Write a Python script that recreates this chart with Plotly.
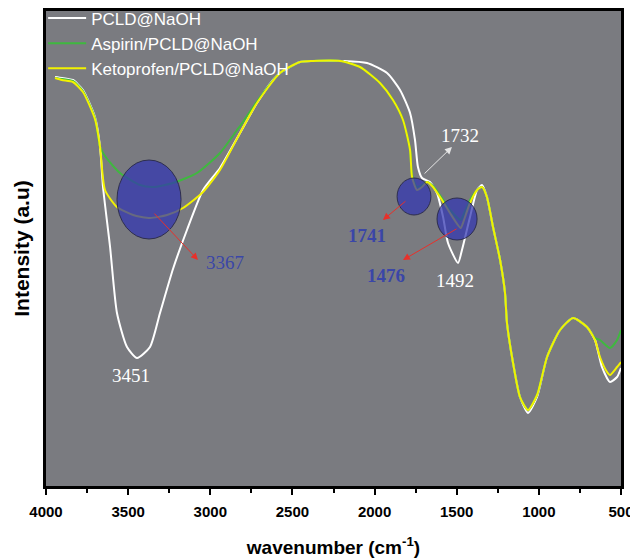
import plotly.graph_objects as go

# ---- data (wavenumber cm^-1, intensity a.u.) ----
pcld_wn = [3945, 3903, 3866, 3836, 3775, 3702, 3671, 3653, 3610, 3568, 3507, 3446, 3367, 3306,
           3227, 3142, 3044, 2941, 2819, 2716, 2618, 2576, 2454, 2375, 2192, 2046, 1924, 1845,
           1784, 1754, 1736, 1711, 1663, 1620, 1583, 1553, 1492, 1468, 1419, 1376, 1346, 1316,
           1279, 1236, 1206, 1194, 1157, 1115, 1066, 1011, 950, 871, 792, 707, 658, 616, 567,
           524, 500]
pcld_int = [409, 408, 407, 406, 396, 369, 339, 299, 239, 173, 139, 128, 139, 173,
            217, 256, 296, 318, 353, 383, 406, 413, 424, 425, 425, 423, 413, 396,
            373, 346, 319, 308, 304, 293, 269, 243, 223, 236, 269, 296, 301, 289,
            259, 226, 193, 163, 123, 89, 73, 89, 129, 156, 168, 159, 146, 119, 104,
            109, 118]

asp_wn = [3945, 3903, 3836, 3775, 3702, 3671, 3641, 3550, 3428, 3349, 3227, 3081, 2941, 2837,
          2801, 2697, 2576, 2454, 2375, 2210, 2089, 1967, 1888, 1827, 1784, 1772, 1742, 1711,
          1681, 1644, 1590, 1541, 1476, 1462, 1419, 1376, 1346, 1316, 1279, 1236, 1206, 1194,
          1157, 1115, 1066, 1011, 950, 871, 792, 707, 658, 628, 567, 524, 500]
asp_int = [408, 407, 405, 395, 368, 339, 330, 313, 301, 299, 303, 313, 333, 356,
           364, 389, 413, 424, 425, 425, 419, 403, 386, 366, 336, 311, 299, 301,
           304, 300, 288, 276, 266, 270, 286, 296, 299, 289, 259, 226, 193, 163,
           123, 89, 76, 91, 129, 156, 168, 159, 148, 146, 138, 146, 156]

keto_wn = [3945, 3903, 3836, 3775, 3702, 3671, 3641, 3568, 3470, 3367, 3263, 3166, 3044, 2941,
           2819, 2716, 2576, 2454, 2375, 2210, 2089, 1967, 1888, 1827, 1784, 1772, 1742, 1711,
           1681, 1644, 1590, 1541, 1476, 1462, 1419, 1376, 1346, 1316, 1279, 1236, 1206, 1194,
           1157, 1115, 1066, 1011, 950, 871, 792, 707, 658, 628, 585, 567, 524, 500]
keto_int = [408, 406, 404, 394, 367, 339, 296, 279, 271, 268, 271, 278, 294, 316,
            353, 383, 413, 424, 425, 425, 419, 403, 386, 366, 336, 309, 296, 299,
            304, 299, 286, 273, 258, 263, 283, 296, 299, 289, 259, 226, 193, 163,
            123, 89, 76, 91, 129, 156, 168, 159, 146, 129, 114, 111, 119, 124]

series_names = ["PCLD@NaOH", "Aspirin/PCLD@NaOH", "Ketoprofen/PCLD@NaOH"]
series_colors = ["#ffffff", "#3fb83f", "#f2f200"]

x_ticks = [4000, 3500, 3000, 2500, 2000, 1500, 1000, 500]

fig = go.Figure()
for wn, inten, name, col in zip([pcld_wn, asp_wn, keto_wn], [pcld_int, asp_int, keto_int],
                                series_names, series_colors):
    fig.add_trace(go.Scatter(x=wn, y=inten, mode="lines", name=name,
                             line=dict(color=col, width=2, shape="spline", smoothing=0.6)))

# highlighted regions (ellipses)
ell_fill = "rgba(48,52,178,0.72)"
ell_line = "rgba(40,40,70,0.9)"
for (x0, x1, y0, y1) in [(3568, 3178, 326, 247), (1863, 1657, 308, 271), (1620, 1376, 288, 246)]:
    fig.add_shape(type="circle", xref="x", yref="y", x0=x0, x1=x1, y0=y0, y1=y1,
                  fillcolor=ell_fill, line=dict(color=ell_line, width=1), layer="above")

serif = "Liberation Serif"
arrows = [((3349, 274), (3075, 226), "#e8302a"),
          ((1803, 286), (1949, 266), "#e8302a"),
          ((1492, 258), (1827, 226), "#e8302a"),
          ((1705, 311), (1529, 339), "#e6e6e6")]
for (tail, head, col) in arrows:
    fig.add_annotation(x=head[0], y=head[1], ax=tail[0], ay=tail[1], xref="x", yref="y",
                       axref="x", ayref="y", text="", showarrow=True, arrowhead=2,
                       arrowsize=1.4, arrowwidth=1, arrowcolor=col)

labels = [("3367", 2910, 224, "#3a46a8", False),
          ("1741", 2046, 251, "#3a46a8", True),
          ("1476", 1930, 211, "#3a46a8", True),
          ("1492", 1510, 206, "#ffffff", False),
          ("3451", 3483, 111, "#ffffff", False),
          ("1732", 1480, 351, "#ffffff", False)]
for (t, x, y, col, bold) in labels:
    fig.add_annotation(x=x, y=y, xref="x", yref="y", text=f"<b>{t}</b>" if bold else t,
                       showarrow=False, font=dict(family=serif, size=19, color=col))

# page body has an 8px margin, so the figure is sized/placed to compensate
fig.update_layout(
    width=630, height=550,
    margin=dict(l=38, r=17, t=3, b=72, autoexpand=False),
    paper_bgcolor="white", plot_bgcolor="#7a7b80",
    showlegend=True,
    legend=dict(x=-0.005, y=1.022, xanchor="left", yanchor="top", bgcolor="rgba(0,0,0,0)",
                font=dict(family="Liberation Sans", size=17, color="white"),
                tracegroupgap=0, itemwidth=38),
    font=dict(family="Liberation Sans"),
)
fig.update_xaxes(range=[4000, 500], tickvals=x_ticks, ticks="outside", ticklen=6,
                 tickwidth=2, tickcolor="black", showgrid=False, zeroline=False,
                 showline=True, linecolor="black", linewidth=3, mirror=True, automargin=False,
                 ticklabelstandoff=4,
                 tickfont=dict(family="Liberation Sans", size=15, color="black", weight="bold"),
                 minor=dict(dtick=250, ticks="outside", ticklen=4, tickwidth=2, tickcolor="black"),
                 title=dict(text="wavenumber (cm<sup>-1</sup>)",
                            font=dict(family="Liberation Sans", size=19, color="black", weight="bold"),
                            standoff=26))
fig.update_yaxes(range=[0, 475], showticklabels=False, ticks="", showgrid=False,
                 zeroline=False, showline=True, linecolor="black", linewidth=3, mirror=True,
                 automargin=False,
                 title=dict(text="Intensity (a.u)",
                            font=dict(family="Liberation Sans", size=21, color="black", weight="bold"),
                            standoff=8))

fig.write_html("out.html")
